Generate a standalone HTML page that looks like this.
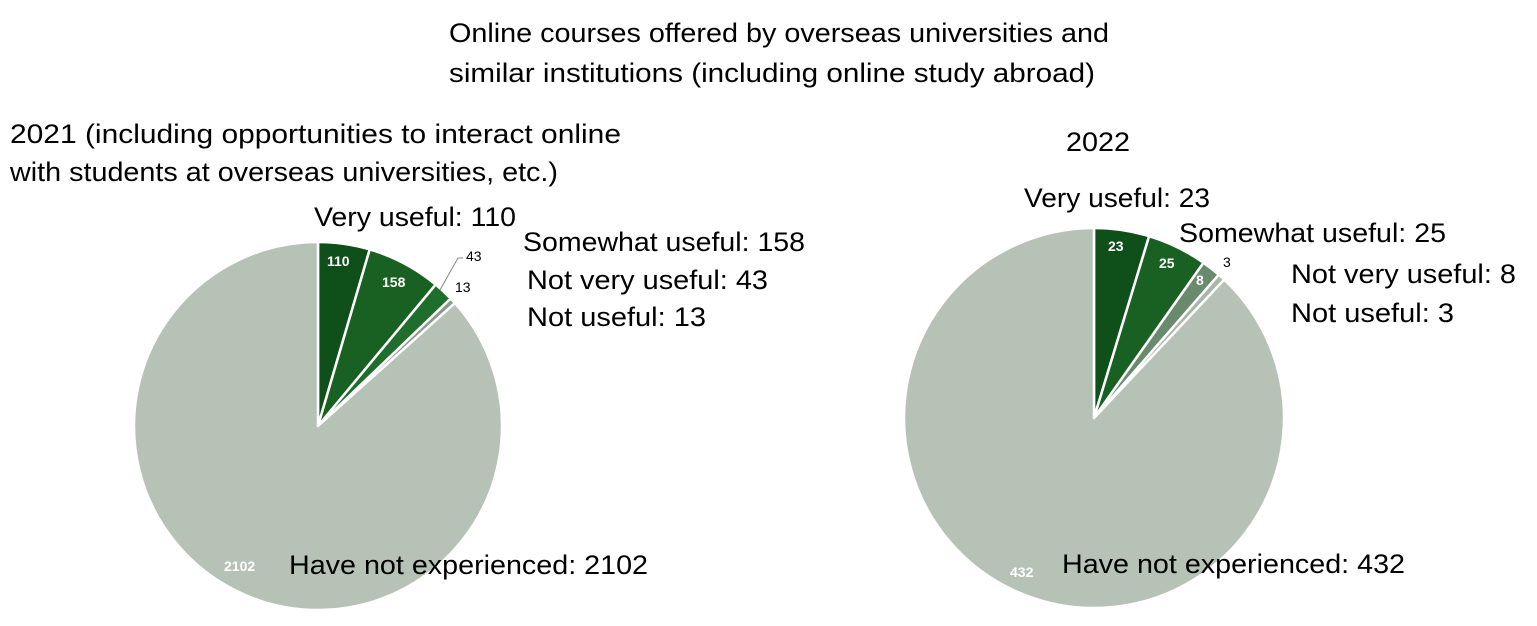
<!DOCTYPE html>
<html><head><meta charset="utf-8"><style>
html,body{margin:0;padding:0;background:#fff;}
svg{display:block;font-family:"Liberation Sans",sans-serif;}
.l{font-size:27px;fill:#000;}
.n{font-size:14px;font-weight:bold;fill:#fff;}
.b{font-size:14px;fill:#000;}
</style></head><body>
<svg id="s" width="1537" height="626" viewBox="0 0 1537 626">
<g id="p1"></g><g id="p2"></g>
<text class="l" x="449" y="42" textLength="660" lengthAdjust="spacingAndGlyphs">Online courses offered by overseas universities and</text>
<text class="l" x="449" y="82" textLength="646" lengthAdjust="spacingAndGlyphs">similar institutions (including online study abroad)</text>
<text class="l" x="10" y="143" textLength="611" lengthAdjust="spacingAndGlyphs">2021 (including opportunities to interact online</text>
<text class="l" x="10" y="181" textLength="548" lengthAdjust="spacingAndGlyphs">with students at overseas universities, etc.)</text>
<text class="l" x="1066" y="151" textLength="64" lengthAdjust="spacingAndGlyphs">2022</text>
<text class="l" x="314" y="226" textLength="202" lengthAdjust="spacingAndGlyphs">Very useful: 110</text>
<text class="l" x="523" y="251" textLength="282" lengthAdjust="spacingAndGlyphs">Somewhat useful: 158</text>
<text class="l" x="527" y="289" textLength="241" lengthAdjust="spacingAndGlyphs">Not very useful: 43</text>
<text class="l" x="527" y="326" textLength="179" lengthAdjust="spacingAndGlyphs">Not useful: 13</text>
<text class="l" x="289" y="574" textLength="359" lengthAdjust="spacingAndGlyphs">Have not experienced: 2102</text>
<text class="l" x="1024" y="207" textLength="186" lengthAdjust="spacingAndGlyphs">Very useful: 23</text>
<text class="l" x="1179" y="242" textLength="267" lengthAdjust="spacingAndGlyphs">Somewhat useful: 25</text>
<text class="l" x="1291" y="283" textLength="225" lengthAdjust="spacingAndGlyphs">Not very useful: 8</text>
<text class="l" x="1291" y="322" textLength="163" lengthAdjust="spacingAndGlyphs">Not useful: 3</text>
<text class="l" x="1062" y="573" textLength="343" lengthAdjust="spacingAndGlyphs">Have not experienced: 432</text>
<text class="n" x="327" y="266">110</text>
<text class="n" x="382" y="287">158</text>
<text class="b" x="466" y="261">43</text>
<polyline points="463,258 458,258 440,290" fill="none" stroke="#888" stroke-width="1"/>
<text class="b" x="455" y="292">13</text>
<text class="n" x="224" y="571">2102</text>
<text class="n" x="1108" y="251">23</text>
<text class="n" x="1159" y="268">25</text>
<text class="n" x="1196" y="285">8</text>
<text class="b" x="1223" y="267">3</text>
<text class="n" x="1010" y="577">432</text>
</svg>
<script>
function pie(id,cx,cy,r,vals,cols){
 var t=vals.reduce(function(a,b){return a+b},0),a=0,g=document.getElementById(id),h='';
 vals.forEach(function(v,i){
  var a2=a+v/t*2*Math.PI;
  var x1=cx+r*Math.sin(a),y1=cy-r*Math.cos(a),x2=cx+r*Math.sin(a2),y2=cy-r*Math.cos(a2);
  h+='<path d="M'+cx+','+cy+'L'+x1+','+y1+'A'+r+','+r+' 0 '+((a2-a)>Math.PI?1:0)+' 1 '+x2+','+y2+'Z" fill="'+cols[i]+'" stroke="#fff" stroke-width="2.5" stroke-linejoin="round"/>';
  a=a2;});
 g.innerHTML=h;
}
pie('p1',318,426,184,[110,158,43,13,2102],['#0f4f1a','#196122','#1f6e2b','#8a9a8c','#b7c2b7']);
pie('p2',1094,418,190,[23,25,8,3,432],['#0f4f1a','#196122','#6a8a6e','#a9b6aa','#b7c2b7']);
</script>
</body></html>
